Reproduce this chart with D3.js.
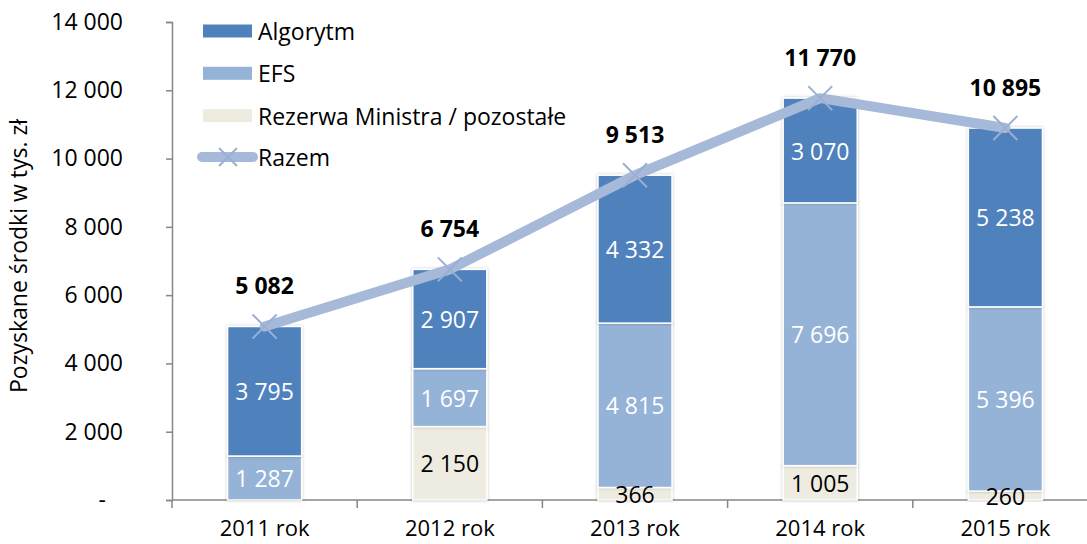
<!DOCTYPE html>
<html>
<head>
<meta charset="utf-8">
<script src="https://cdn.jsdelivr.net/npm/d3@7"></script>
<style>
  body { margin: 0; background: #fff; }
  svg { font-family: "Open Sans", sans-serif; }
</style>
</head>
<body>
<div id="chart"></div>
<script>
// data
const years = ["2011 rok", "2012 rok", "2013 rok", "2014 rok", "2015 rok"];
const algorytm = [3795, 2907, 4332, 3070, 5238];
const efs = [1287, 1697, 4815, 7696, 5396];
const rezerwa = [0, 2150, 366, 1005, 260];
const razem = [5082, 6754, 9513, 11770, 10895];
const yTicks = [0, 2000, 4000, 6000, 8000, 10000, 12000, 14000];

const width = 1087, height = 544;

const series = [
  { key: "rezerwa", name: "Rezerwa Ministra / pozostałe", values: rezerwa, color: "#eeece1", text: "#000" },
  { key: "efs", name: "EFS", values: efs, color: "#95b3d7", text: "#fff" },
  { key: "algorytm", name: "Algorytm", values: algorytm, color: "#4f81bd", text: "#fff" }
];

const rows = years.map((y, i) => ({ year: y, rezerwa: rezerwa[i], efs: efs[i], algorytm: algorytm[i] }));
const stacked = d3.stack().keys(series.map(s => s.key))(rows);

const x = d3.scaleBand().domain(years).range([172, 1098]).paddingInner(0.6).paddingOuter(0.3);
const y = d3.scaleLinear().domain([0, 14000]).range([500, 22]);

const fmt = v => v === 0 ? "-" : d3.format(",")(v).replace(/,/g, " ");

const svg = d3.select("#chart").append("svg")
  .attr("width", width).attr("height", height);

const defs = svg.append("defs");
defs.append("filter").attr("id", "shadow").attr("x", "-20%").attr("y", "-20%").attr("width", "140%").attr("height", "140%")
  .append("feDropShadow").attr("dx", 0).attr("dy", 0).attr("stdDeviation", 1.6)
  .attr("flood-color", "#000").attr("flood-opacity", 0.25);

// y axis
const yAxis = svg.append("g").attr("transform", "translate(172,0)")
  .call(d3.axisLeft(y).tickValues(yTicks).tickSize(6).tickPadding(43).tickFormat(fmt));
yAxis.select(".domain").attr("stroke", "#868686").attr("stroke-width", 1.5);
yAxis.selectAll(".tick line").attr("stroke", "#868686").attr("stroke-width", 1.5);
yAxis.selectAll(".tick text").attr("font-size", 23).attr("fill", "#000").attr("font-family", "Open Sans")
  .attr("dx", d => d === 0 ? -17 : 0);

// x axis
const xAxis = svg.append("g").attr("transform", "translate(0,500)")
  .call(d3.axisBottom(x).tickSize(0).tickPadding(20));
xAxis.select(".domain").attr("stroke", "#868686").attr("stroke-width", 1.5).attr("d", "M172,0H1098");
xAxis.selectAll(".tick text").attr("font-size", 22).attr("fill", "#000").attr("font-family", "Open Sans");
const sep = d3.range(years.length + 1).map(i => x.range()[0] + i * x.step());
xAxis.selectAll(".sep").data(sep).join("line").attr("class", "sep")
  .attr("x1", d => d).attr("x2", d => d).attr("y1", 0).attr("y2", 8)
  .attr("stroke", "#868686").attr("stroke-width", 1.5);

// axis title
svg.append("text")
  .attr("transform", "translate(21,256) rotate(-90)")
  .attr("text-anchor", "middle").attr("dominant-baseline", "middle")
  .attr("font-size", 23).attr("fill", "#000")
  .text("Pozyskane środki w tys. zł");

// bars
const layers = svg.append("g").selectAll("g").data(stacked).join("g")
  .attr("fill", (d, i) => series[i].color);
layers.selectAll("rect").data(d => d.filter(p => p[1] - p[0] > 0)).join("rect")
  .attr("x", d => x(d.data.year))
  .attr("width", x.bandwidth())
  .attr("y", d => y(d[1]))
  .attr("height", d => y(d[0]) - y(d[1]))
  .attr("stroke", "#fff").attr("stroke-width", 1.5)
  .attr("filter", "url(#shadow)");

// segment labels
stacked.forEach((layer, i) => {
  svg.append("g").selectAll("text").data(layer.filter(p => p[1] - p[0] > 0)).join("text")
    .attr("x", d => x(d.data.year) + x.bandwidth() / 2)
    .attr("y", d => (y(d[0]) + y(d[1])) / 2)
    .attr("text-anchor", "middle").attr("dominant-baseline", "central")
    .attr("font-size", 23).attr("fill", series[i].text)
    .text(d => fmt(d[1] - d[0]));
});

// total line
const pts = years.map((yr, i) => [x(yr) + x.bandwidth() / 2, y(razem[i])]);
svg.append("path").datum(pts)
  .attr("d", d3.line())
  .attr("fill", "none").attr("stroke", "#a7b9d8").attr("stroke-width", 10)
  .attr("stroke-linejoin", "round").attr("stroke-linecap", "round");

function cross(g, cx, cy, r) {
  g.append("path")
    .attr("d", `M${cx - r},${cy - r}L${cx + r},${cy + r}M${cx - r},${cy + r}L${cx + r},${cy - r}`)
    .attr("stroke", "#9aafd2").attr("stroke-width", 2).attr("fill", "none");
}
const marks = svg.append("g");
pts.forEach(p => cross(marks, p[0], p[1], 12));

svg.append("g").selectAll("text").data(pts).join("text")
  .attr("x", d => d[0]).attr("y", d => d[1] - 41)
  .attr("text-anchor", "middle").attr("dominant-baseline", "central")
  .attr("font-size", 23).attr("font-weight", "bold").attr("fill", "#000")
  .text((d, i) => fmt(razem[i]));

// legend
const legend = svg.append("g");
const legendItems = [series[2], series[1], series[0]];
legendItems.forEach((s, i) => {
  const cy = 31 + i * 42.3;
  legend.append("rect").attr("x", 203).attr("y", cy - 6.5).attr("width", 49).attr("height", 13)
    .attr("fill", s.color);
  legend.append("text").attr("x", 258).attr("y", cy)
    .attr("dominant-baseline", "central").attr("font-size", 23).attr("fill", "#000")
    .text(s.name);
});
const ly = 157;
legend.append("line").attr("x1", 202).attr("x2", 253).attr("y1", ly).attr("y2", ly)
  .attr("stroke", "#a7b9d8").attr("stroke-width", 10).attr("stroke-linecap", "round");
cross(legend, 228, ly, 9);
legend.append("text").attr("x", 258).attr("y", ly)
  .attr("dominant-baseline", "central").attr("font-size", 23).attr("fill", "#000")
  .text("Razem");
</script>
</body>
</html>
